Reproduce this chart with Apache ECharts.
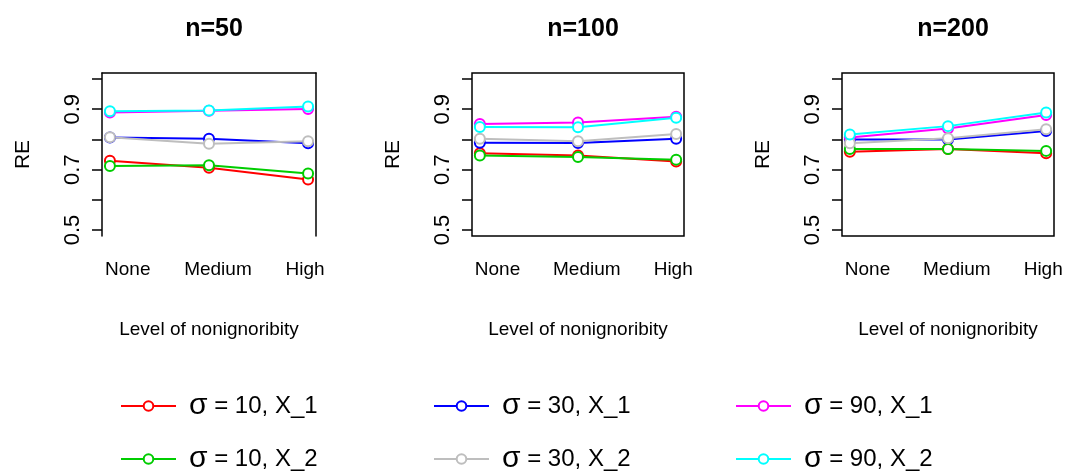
<!DOCTYPE html>
<html><head><meta charset="utf-8">
<script src="https://cdn.jsdelivr.net/npm/echarts@6/dist/echarts.min.js"></script>
<style>html,body{margin:0;padding:0;background:#fff}#c{width:1067px;height:472px}</style>
</head><body><div id="c"></div><script>
// ---- data ----
const categories = ['None', 'Medium', 'High'];
const categoryPos = [1, 2, 3];
const labelPos = [1.18, 2.09, 2.97];
const panelTitles = ['n=50', 'n=100', 'n=200'];
const yTicks = [0.5, 0.6, 0.7, 0.8, 0.9, 1.0];
const yTickLabels = [0.5, 0.7, 0.9];
const seriesNames = ['σ = 10, X_1', 'σ = 10, X_2', 'σ = 30, X_1', 'σ = 30, X_2', 'σ = 90, X_1', 'σ = 90, X_2'];
const seriesColors = ['#FF0000', '#00CD00', '#0000FF', '#BEBEBE', '#FF00FF', '#00FFFF'];

// n = 50
const n50_s10_x1 = [0.729, 0.706, 0.667];
const n50_s10_x2 = [0.712, 0.714, 0.687];
const n50_s30_x1 = [0.806, 0.802, 0.787];
const n50_s30_x2 = [0.807, 0.786, 0.794];
const n50_s90_x1 = [0.889, 0.895, 0.901];
const n50_s90_x2 = [0.893, 0.896, 0.909];
// n = 100
const n100_s10_x1 = [0.754, 0.747, 0.727];
const n100_s10_x2 = [0.747, 0.742, 0.733];
const n100_s30_x1 = [0.789, 0.788, 0.802];
const n100_s30_x2 = [0.802, 0.794, 0.818];
const n100_s90_x1 = [0.851, 0.856, 0.875];
const n100_s90_x2 = [0.841, 0.840, 0.872];
// n = 200
const n200_s10_x1 = [0.759, 0.768, 0.754];
const n200_s10_x2 = [0.768, 0.768, 0.762];
const n200_s30_x1 = [0.800, 0.800, 0.828];
const n200_s30_x2 = [0.787, 0.804, 0.834];
const n200_s90_x1 = [0.806, 0.836, 0.881];
const n200_s90_x2 = [0.816, 0.844, 0.889];

const panelData = [
  [n50_s10_x1, n50_s10_x2, n50_s30_x1, n50_s30_x2, n50_s90_x1, n50_s90_x2],
  [n100_s10_x1, n100_s10_x2, n100_s30_x1, n100_s30_x2, n100_s90_x1, n100_s90_x2],
  [n200_s10_x1, n200_s10_x2, n200_s30_x1, n200_s30_x2, n200_s90_x1, n200_s90_x2]
];
// draw order (R-like): X_1 series first then X_2
const drawOrder = [0, 2, 4, 1, 3, 5];

// ---- layout ----
const FONT = '"Liberation Sans", Arial, Helvetica, sans-serif';
const grids = [
  { left: 102, top: 73, width: 214, height: 163 },
  { left: 472, top: 73, width: 212, height: 163 },
  { left: 842, top: 73, width: 212, height: 163 }
];

const chart = echarts.init(document.getElementById('c'), null, { renderer: 'canvas' });

const gridOpts = grids.map((g, i) => Object.assign({}, g, {
  show: i > 0, borderColor: '#000', borderWidth: 1.5, backgroundColor: 'transparent', containLabel: false
}));

const xAxes = [];
const yAxes = [];
grids.forEach((g, i) => {
  xAxes.push({
    type: 'value', gridIndex: i, min: 0.92, max: 3.08,
    name: 'Level of nonignoribity', nameLocation: 'middle', nameGap: 84,
    nameTextStyle: { fontFamily: FONT, fontSize: 19, color: '#000' },
    axisLine: { show: false }, axisTick: { show: false }, splitLine: { show: false },
    axisLabel: {
      customValues: labelPos, margin: 24,
      fontFamily: FONT, fontSize: 19, color: '#000',
      formatter: v => { const k = labelPos.findIndex(p => Math.abs(p - v) < 1e-6); return k >= 0 ? categories[k] : ''; }
    }
  });
  yAxes.push({
    type: 'value', gridIndex: i, min: 0.48, max: 1.02,
    name: 'RE', nameLocation: 'middle', nameGap: 68, nameRotate: 90,
    nameTextStyle: { fontFamily: FONT, fontSize: 21, color: '#000' },
    axisLine: { show: i === 0, lineStyle: { color: '#000', width: 1.5 } },
    axisTick: { show: true, customValues: yTicks, length: 10, lineStyle: { color: '#000', width: 1.5 } },
    splitLine: { show: false },
    axisLabel: {
      customValues: yTickLabels, rotate: 90, margin: 18,
      fontFamily: FONT, fontSize: 22, color: '#000',
      formatter: v => v.toFixed(1)
    }
  });
});
// extra top/right lines for first panel (its frame has no bottom edge)
xAxes.push({ type: 'value', gridIndex: 0, position: 'top', min: 0.92, max: 3.08,
  axisLine: { show: true, lineStyle: { color: '#000', width: 1.5 } }, axisTick: { show: false },
  axisLabel: { show: false }, splitLine: { show: false } });
yAxes.push({ type: 'value', gridIndex: 0, position: 'right', min: 0.48, max: 1.02,
  axisLine: { show: true, lineStyle: { color: '#000', width: 1.5 } }, axisTick: { show: false },
  axisLabel: { show: false }, splitLine: { show: false } });

const series = [];
panelData.forEach((arrs, p) => {
  drawOrder.forEach(k => {
    series.push({
      type: 'line', name: seriesNames[k], xAxisIndex: p, yAxisIndex: p,
      data: categoryPos.map((x, j) => [x, arrs[k][j]]),
      symbol: 'emptyCircle', symbolSize: 10, color: seriesColors[k],
      lineStyle: { width: 2, color: seriesColors[k] },
      itemStyle: { borderWidth: 2.2, color: seriesColors[k] },
      emphasis: { disabled: true }, animation: false
    });
  });
});

// one legend per entry: 3 columns x 2 rows
const legendLefts = [120, 433, 735];
const legendTops = [391, 444];
const legends = seriesNames.map((n, k) => ({
  orient: 'horizontal', left: legendLefts[Math.floor(k / 2)], top: legendTops[k % 2],
  padding: 0, itemWidth: 55, itemHeight: 12,
  data: [n],
  selectedMode: false,
  formatter: s => s.replace('σ', '{s|σ}'),
  textStyle: {
    fontFamily: FONT, fontSize: 24, color: '#000', padding: [0, 0, 0, 8],
    rich: { s: { fontFamily: FONT, fontSize: 30, color: '#000' } }
  }
}));

chart.setOption({
  backgroundColor: '#fff',
  animation: false,
  title: grids.map((g, i) => ({
    text: panelTitles[i], left: g.left + g.width / 2, top: 12, textAlign: 'center',
    textStyle: { fontFamily: FONT, fontSize: 25, fontWeight: 'bold', color: '#000' }
  })),
  grid: gridOpts,
  xAxis: xAxes,
  yAxis: yAxes,
  legend: legends,
  series: series
});
</script></body></html>
